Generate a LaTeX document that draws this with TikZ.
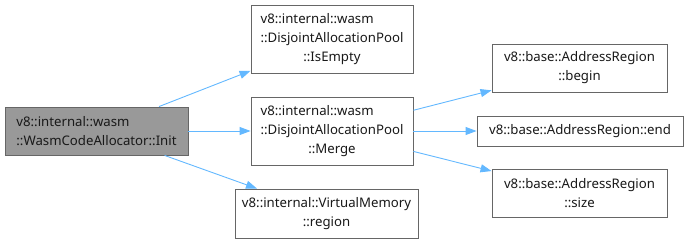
\documentclass[tikz,border=0pt]{standalone}
\usepackage{fontspec}
\usepackage{calc}
\setmainfont{Noto Sans}
\usetikzlibrary{arrows.meta}
\definecolor{edgeblue}{HTML}{63B8FF}
\definecolor{boxline}{HTML}{666666}
\definecolor{rootfill}{HTML}{999999}
% first line flush left against the width of the second line
\newcommand{\leftfirst}[2]{\makebox[\widthof{#2}][l]{#1}\\#2}
\tikzset{
  fn/.style={draw=boxline, line width=0.9pt, fill=white, align=center, inner sep=0pt,
    font=\fontsize{13.2}{19}\selectfont, text=black!90},
  root/.style={fn, fill=rootfill, align=left},
  call/.style={draw=edgeblue, line width=0.9pt, -{Triangle[length=11pt,width=8pt]}},
}
\begin{document}
\begin{tikzpicture}[x=1pt,y=-1pt]
\useasboundingbox (0,0) rectangle (689,244);
% caller
\node[root, minimum width=183pt, minimum height=48pt] (init) at (96.5,131)
  {v8::internal::wasm\\::WasmCodeAllocator::Init};
% direct callees
\node[fn, minimum width=162pt, minimum height=68pt] (isempty) at (332,39)
  {\leftfirst{v8::internal::wasm}{::DisjointAllocationPool}\\::IsEmpty};
\node[fn, minimum width=162pt, minimum height=68pt] (merge) at (332,131)
  {\leftfirst{v8::internal::wasm}{::DisjointAllocationPool}\\::Merge};
\node[fn, minimum width=183pt, minimum height=49pt] (region) at (326.5,213.5)
  {v8::internal::VirtualMemory\\::region};
% callees of Merge
\node[fn, minimum width=175pt, minimum height=48pt] (begin) at (579.5,68)
  {v8::base::AddressRegion\\::begin};
\node[fn, minimum width=206pt, minimum height=30pt] (end) at (580,131)
  {v8::base::AddressRegion::end};
\node[fn, minimum width=175pt, minimum height=48pt] (size) at (579.5,193)
  {v8::base::AddressRegion\\::size};
% call edges
\draw[call] (init) -- (isempty);
\draw[call] (init) -- (merge);
\draw[call] (init) -- (region);
\draw[call] (merge) -- (begin);
\draw[call] (merge) -- (end);
\draw[call] (merge) -- (size);
\end{tikzpicture}
\end{document}
